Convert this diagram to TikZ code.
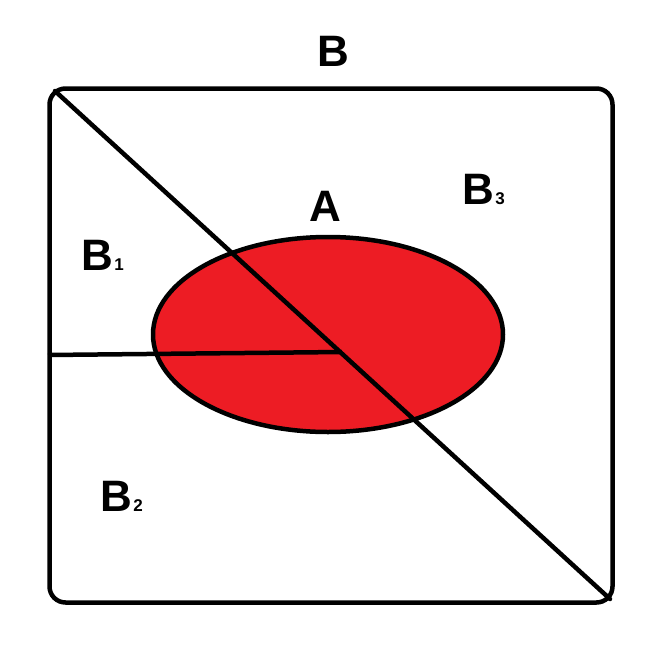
\documentclass[tikz,border=0pt]{standalone}
\usepackage{fontspec}
\setmainfont{Liberation Sans}
\usetikzlibrary{shapes.geometric}
\definecolor{paintred}{HTML}{ED1C24}
\tikzset{
  lbl/.style={font=\fontsize{44}{44}\selectfont\bfseries, inner sep=0pt, anchor=base west},
  sub/.style={font=\fontsize{17}{17}\selectfont\bfseries, inner sep=0pt, anchor=base west},
  edge/.style={line width=4.5pt, line cap=round, line join=round}
}
\begin{document}
\begin{tikzpicture}[x=1pt,y=-1pt]
\useasboundingbox (0,0) rectangle (666,653);
\node[fill=paintred, ellipse, minimum width=350, minimum height=195, line width=4.5pt, draw=black, inner sep=0pt] (A) at (328,334.5) {};
\node[draw, edge, rounded corners=16pt, minimum width=563, minimum height=514, inner sep=0pt] (Bbox) at (331,345.5) {};
\coordinate (d1) at (55,91);
\coordinate (d2) at (610,599);
\coordinate (h1) at (48,355);
\coordinate (h2) at (342,352);
\draw[edge] (d1) -- (d2);
\draw[edge, line cap=butt] (h1) -- (h2);
\node[lbl] (Bt) at (317,66) {B};
\node[lbl] (Al) at (309,221) {A};
\node[lbl] (B3) at (462,204) {B};
\node[sub] (s3) at ([xshift=1pt]B3.base east) {3};
\node[lbl] (B1) at (81,270) {B};
\node[sub] (s1) at ([xshift=1pt]B1.base east) {1};
\node[lbl] (B2) at (100,511) {B};
\node[sub] (s2) at ([xshift=1pt]B2.base east) {2};
\end{tikzpicture}
\end{document}
